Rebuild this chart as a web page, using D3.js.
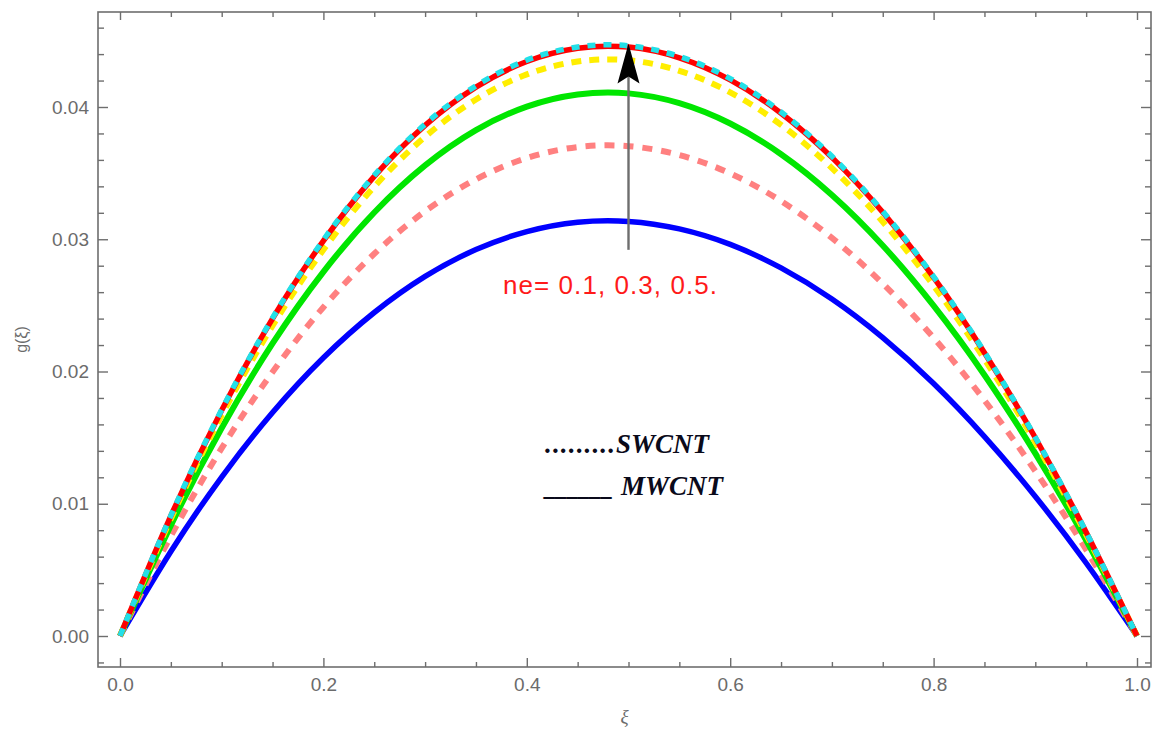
<!DOCTYPE html>
<html lang="en">
<head>
    <meta charset="UTF-8">
    <title>g(xi) profiles</title>
    <style>
        body { margin: 0; background: #fff; }
        svg { display: block; }
        .tick text { font-family: "Liberation Sans", Arial, sans-serif; fill: #6b6b6b; }
        .tick line { stroke: #6e6e6e; stroke-width: 1.4; }
        .domain { display: none; }
    </style>
</head>
<body>
    <svg id="chart" width="1153" height="733"></svg>
    <script src="https://d3js.org/d3.v7.min.js"></script>
    <script>
        // xi samples and g(xi)
        const xi = [0, 0.05, 0.10, 0.15, 0.20, 0.25, 0.30, 0.35, 0.40, 0.45, 0.50,
                    0.55, 0.60, 0.65, 0.70, 0.75, 0.80, 0.85, 0.90, 0.95, 1.0];
        const gBlue   = [0, 0.00639, 0.01202, 0.01690, 0.02104, 0.02446, 0.02719, 0.02922, 0.03058, 0.03129, 0.03135,
                         0.03078, 0.02961, 0.02783, 0.02548, 0.02256, 0.01909, 0.01508, 0.01055, 0.00552, 0];
        const gPink   = [0, 0.00755, 0.01420, 0.01996, 0.02486, 0.02890, 0.03212, 0.03453, 0.03614, 0.03697, 0.03704,
                         0.03637, 0.03498, 0.03289, 0.03010, 0.02665, 0.02255, 0.01782, 0.01247, 0.00652, 0];
        const gGreen  = [0, 0.00836, 0.01573, 0.02212, 0.02754, 0.03202, 0.03558, 0.03825, 0.04003, 0.04095, 0.04103,
                         0.04029, 0.03875, 0.03643, 0.03335, 0.02953, 0.02498, 0.01974, 0.01381, 0.00723, 0];
        const gYellow = [0, 0.00887, 0.01669, 0.02346, 0.02921, 0.03397, 0.03775, 0.04057, 0.04247, 0.04344, 0.04353,
                         0.04274, 0.04111, 0.03865, 0.03538, 0.03132, 0.02650, 0.02094, 0.01465, 0.00766, 0];
        const gRed    = [0, 0.00908, 0.01707, 0.02400, 0.02988, 0.03475, 0.03861, 0.04150, 0.04344, 0.04444, 0.04453,
                         0.04372, 0.04205, 0.03953, 0.03619, 0.03204, 0.02711, 0.02142, 0.01499, 0.00784, 0];
        const gCyan   = [0, 0.00910, 0.01711, 0.02405, 0.02995, 0.03483, 0.03870, 0.04160, 0.04354, 0.04454, 0.04463,
                         0.04382, 0.04215, 0.03962, 0.03627, 0.03211, 0.02717, 0.02147, 0.01502, 0.00786, 0];

        const xTicks = [0, 0.2, 0.4, 0.6, 0.8, 1.0];
        const yTicks = [0, 0.01, 0.02, 0.03, 0.04];
        const arrowFrom = [0.5, 0.0292];
        const arrowTo = [0.5, 0.0448];
        const annotation = "ne= 0.1, 0.3, 0.5.";

        const svg = d3.select('#chart');
        const frame = {left: 98, top: 12, right: 1151, bottom: 667};

        const x = d3.scaleLinear().domain([0, 1]).range([120, 1137]);
        const y = d3.scaleLinear().domain([0, 0.04]).range([636, 107]);

        const xMinor = d3.range(0, 1.0001, 0.05).filter(v => !xTicks.some(t => Math.abs(t - v) < 1e-6));
        const yMinor = d3.range(-0.002, 0.0471, 0.002).filter(v => !yTicks.some(t => Math.abs(t - v) < 1e-6));

        // frame
        svg.append('rect')
            .attr('x', frame.left).attr('y', frame.top)
            .attr('width', frame.right - frame.left).attr('height', frame.bottom - frame.top)
            .attr('fill', 'none').attr('stroke', '#6e6e6e').attr('stroke-width', 1.6);

        // ticks on all four sides, pointing inward
        function addAxis(axis, tx, ty, labels) {
            const g = svg.append('g').attr('transform', `translate(${tx},${ty})`).call(axis);
            g.selectAll('text').style('font-size', '19px');
            if (!labels) g.selectAll('text').remove();
            return g;
        }
        addAxis(d3.axisBottom(x).tickValues(xTicks).tickSize(-9).tickPadding(11).tickFormat(d3.format('.1f')), 0, frame.bottom, true);
        addAxis(d3.axisBottom(x).tickValues(xMinor).tickSize(-5), 0, frame.bottom, false);
        addAxis(d3.axisTop(x).tickValues(xTicks).tickSize(-8), 0, frame.top, false);
        addAxis(d3.axisTop(x).tickValues(xMinor).tickSize(-5), 0, frame.top, false);
        addAxis(d3.axisLeft(y).tickValues(yTicks).tickSize(-10).tickPadding(9).tickFormat(d3.format('.2f')), frame.left, 0, true);
        addAxis(d3.axisLeft(y).tickValues(yMinor).tickSize(-6), frame.left, 0, false);
        addAxis(d3.axisRight(y).tickValues(yTicks).tickSize(-10), frame.right, 0, false);
        addAxis(d3.axisRight(y).tickValues(yMinor).tickSize(-6), frame.right, 0, false);

        // axis labels
        svg.append('text')
            .attr('transform', `translate(27,${(frame.top + frame.bottom) / 2}) rotate(-90)`)
            .attr('text-anchor', 'middle')
            .style('font-family', '"Liberation Sans", Arial, sans-serif').style('font-size', '16px')
            .attr('fill', '#6b6b6b')
            .text('g(ξ)');
        svg.append('text')
            .attr('x', (frame.left + frame.right) / 2).attr('y', 723)
            .attr('text-anchor', 'middle')
            .style('font-family', '"Liberation Serif", serif').style('font-size', '19px').style('font-style', 'italic')
            .attr('fill', '#6b6b6b')
            .text('ξ');

        // curves, drawn bottom to top
        const series = [
            {vals: gBlue,   color: '#0000ff', width: 5.5, dash: null},
            {vals: gPink,   color: '#ff8080', width: 6,   dash: '10,9'},
            {vals: gGreen,  color: '#00e600', width: 6,   dash: null},
            {vals: gYellow, color: '#ffee00', width: 6,   dash: '10,8'},
            {vals: gRed,    color: '#ff0000', width: 5.5, dash: null},
            {vals: gCyan,   color: '#22e0e8', width: 5.5, dash: '8,8'}
        ];
        const line = d3.line()
            .x((d, i) => x(xi[i]))
            .y(d => y(d))
            .curve(d3.curveNatural);

        svg.append('g')
            .selectAll('path')
            .data(series)
            .join('path')
            .attr('d', s => line(s.vals))
            .attr('fill', 'none')
            .attr('stroke', s => s.color)
            .attr('stroke-width', s => s.width)
            .attr('stroke-dasharray', s => s.dash);

        // arrow
        const ax = x(arrowFrom[0]), ay0 = y(arrowFrom[1]), ay1 = y(arrowTo[1]);
        svg.append('line')
            .attr('x1', ax).attr('x2', ax).attr('y1', ay0).attr('y2', ay1 + 20)
            .attr('stroke', '#6e6e6e').attr('stroke-width', 2.4);
        svg.append('path')
            .attr('d', `M${ax},${ay1} L${ax + 11},${ay1 + 40} L${ax},${ay1 + 33} L${ax - 11},${ay1 + 40} Z`)
            .attr('fill', '#000');

        svg.append('text')
            .attr('x', 503).attr('y', 294)
            .attr('textLength', 214).attr('lengthAdjust', 'spacing')
            .style('font-family', '"Liberation Sans", Arial, sans-serif').style('font-size', '26px')
            .attr('fill', '#ff1a1a')
            .text(annotation);

        // legend
        const legend = svg.append('g')
            .style('font-family', '"Liberation Serif", "Times New Roman", serif')
            .style('font-weight', 'bold').style('font-style', 'italic')
            .style('font-size', '27px').attr('fill', '#0a0a1a');
        legend.append('text').attr('x', 545).attr('y', 453)
            .attr('textLength', 70).attr('lengthAdjust', 'spacing').text('.........');
        legend.append('text').attr('x', 616).attr('y', 453).text('SWCNT');
        legend.append('text').attr('x', 545).attr('y', 495)
            .attr('textLength', 68).attr('lengthAdjust', 'spacingAndGlyphs').text('______');
        legend.append('text').attr('x', 621).attr('y', 495).text('MWCNT');
    </script>
</body>
</html>
